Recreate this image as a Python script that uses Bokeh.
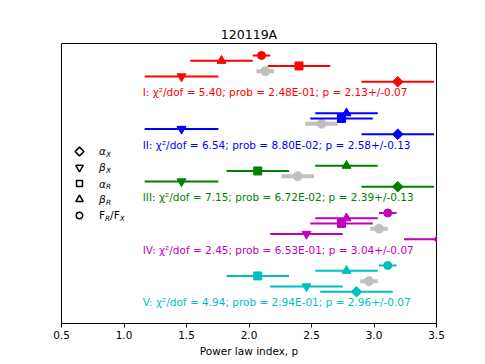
import math
from bokeh.plotting import figure
from bokeh.models import Range1d, FixedTicker, ColumnDataSource
from bokeh.core.properties import value
from bokeh.embed import file_html
from bokeh.resources import INLINE

# ---------------- data ----------------
title_text = "120119A"
groups = ["I", "II", "III", "IV", "V"]
colors = ["#ff0000", "#0000ff", "#008000", "#bf00bf", "#00bfbf"]
group_y = [5, 4, 3, 2, 1]

alpha_x = [3.19, 3.19, 3.19, 3.52, 2.86]
alpha_x_err = [0.29, 0.29, 0.29, 0.28, 0.29]
beta_x = [1.46, 1.46, 1.46, 2.46, 2.46]
beta_x_err = [0.295, 0.295, 0.295, 0.29, 0.29]
alpha_r = [2.40, 2.74, 2.07, 2.74, 2.07]
alpha_r_err = [0.25, 0.25, 0.25, 0.25, 0.25]
beta_r = [1.78, 2.78, 2.78, 2.78, 2.78]
beta_r_err = [0.25, 0.25, 0.25, 0.25, 0.25]
ratio = [2.10, None, None, 3.11, 3.11]
ratio_err = [0.07, None, None, 0.07, 0.07]
p_fit = [2.13, 2.58, 2.39, 3.04, 2.96]
p_err = [0.07, 0.13, 0.13, 0.07, 0.07]
chi2dof = [5.40, 6.54, 7.15, 2.45, 4.94]
prob = ["2.48E-01", "8.80E-02", "6.72E-02", "6.53E-01", "2.94E-01"]

tick_values = [0.5, 1.0, 1.5, 2.0, 2.5, 3.0, 3.5]
tick_labels = ["0.5", "1.0", "1.5", "2.0", "2.5", "3.0", "3.5"]
x_label = "Power law index, p"

legend_main = ["α", "β", "α", "β"]
legend_sub = ["X", "X", "R", "R"]

# ---------------- figure ----------------
FONT = "DejaVu Sans"
p = figure(width=485, height=364, x_range=Range1d(0.5, 3.5), y_range=Range1d(0.594, 5.928),
           output_backend="svg", toolbar_location=None, title=title_text,
           min_border_left=61, min_border_right=49, min_border_top=43, min_border_bottom=41)
p.title.align = "center"
p.title.text_font = FONT
p.title.text_font_size = "12.5px"
p.title.text_font_style = "normal"
p.title.text_color = "black"
p.title.standoff = 4
p.yaxis.visible = False
p.xgrid.visible = False
p.ygrid.visible = False
p.outline_line_color = "black"
p.outline_line_alpha = 1.0
p.outline_line_width = 1

ax = p.xaxis[0]
ax.ticker = FixedTicker(ticks=tick_values)
ax.major_label_overrides = {v: s for v, s in zip(tick_values, tick_labels)}
ax.minor_tick_line_color = None
ax.major_tick_in = 0
ax.major_tick_out = 4
ax.major_label_standoff = 3
ax.major_label_text_font = FONT
ax.major_label_text_font_size = "10.5px"
ax.major_label_text_color = "black"
ax.axis_label = x_label
ax.axis_label_text_font = FONT
ax.axis_label_text_font_size = "10.5px"
ax.axis_label_text_font_style = "normal"
ax.axis_label_text_color = "black"
ax.axis_label_standoff = 3
ax.axis_line_color = "black"
ax.major_tick_line_color = "black"

# gray fitted p
gsrc = ColumnDataSource(dict(x=p_fit, lo=[v - e for v, e in zip(p_fit, p_err)],
                             hi=[v + e for v, e in zip(p_fit, p_err)],
                             y=[g + 0.4 for g in group_y]))
p.segment(x0="lo", x1="hi", y0="y", y1="y", source=gsrc, line_color="#c0c0c0", line_width=4)
p.scatter(x="x", y="y", source=gsrc, marker="circle", size=9, fill_color="#c0c0c0", line_color="#c0c0c0")

series = [
    (alpha_x, alpha_x_err, 0.2, "square", 7.5, math.pi / 4),
    (beta_x, beta_x_err, 0.3, "inverted_triangle", 9, 0),
    (alpha_r, alpha_r_err, 0.5, "square", 8, 0),
    (beta_r, beta_r_err, 0.6, "triangle", 9, 0),
    (ratio, ratio_err, 0.7, "circle", 8, 0),
]
for vals, errs, off, mk, sz, ang in series:
    xs, lo, hi, ys, cs = [], [], [], [], []
    for v, e, g, c in zip(vals, errs, group_y, colors):
        if v is None:
            continue
        xs.append(v); lo.append(v - e); hi.append(v + e); ys.append(g + off); cs.append(c)
    src = ColumnDataSource(dict(x=xs, lo=lo, hi=hi, y=ys, c=cs))
    p.segment(x0="lo", x1="hi", y0="y", y1="y", source=src, line_color="c", line_width=2)
    p.scatter(x="x", y="y", source=src, marker=mk, size=sz, angle=ang,
              fill_color="c", line_color="c")

# group annotation texts
texts = [f"{g}: χ²/dof = {c:.2f}; prob = {pr}; p = {pf:.2f}+/-{pe:.2f}"
         for g, c, pr, pf, pe in zip(groups, chi2dof, prob, p_fit, p_err)]
tsrc = ColumnDataSource(dict(x=[1.15] * len(texts), y=group_y, t=texts, c=colors))
p.text(x="x", y="y", text="t", source=tsrc, text_color="c", text_font=value(FONT),
       text_font_size="10.5px", text_baseline="middle", text_align="left")

# legend (manual)
leg_y = [3.871, 3.566, 3.261, 2.957, 2.652]
leg_markers = [("square", 6.2, math.pi / 4), ("inverted_triangle", 7.5, 0), ("square", 6, 0),
               ("triangle", 7.5, 0), ("circle", 6.5, 0)]
for yy, (mk, sz, ang) in zip(leg_y, leg_markers):
    p.scatter(x=[0.644], y=[yy], marker=mk, size=sz, angle=ang, fill_color=None,
              line_color="black", line_width=1.5)

lx = 0.80
p.text(x=[lx] * 4, y=leg_y[:4], text=legend_main, text_font=value(FONT), text_font_style="italic",
       text_font_size="10.5px", text_baseline="middle", text_color="black")
p.text(x=[lx] * 4, y=leg_y[:4], text=legend_sub, text_font=value(FONT), text_font_style="italic",
       text_font_size="7.3px", text_baseline="middle", text_color="black", x_offset=6.9, y_offset=3)
# F_R/F_X
p.text(x=[lx], y=[leg_y[4]], text=["F"], text_font=value(FONT), text_font_size="10.5px",
       text_baseline="middle", text_color="black")
p.text(x=[lx], y=[leg_y[4]], text=["R"], text_font=value(FONT), text_font_style="italic",
       text_font_size="7.3px", text_baseline="middle", text_color="black", x_offset=6.0, y_offset=3)
p.text(x=[lx], y=[leg_y[4]], text=["/F"], text_font=value(FONT), text_font_size="10.5px",
       text_baseline="middle", text_color="black", x_offset=11.1)
p.text(x=[lx], y=[leg_y[4]], text=["X"], text_font=value(FONT), text_font_style="italic",
       text_font_size="7.3px", text_baseline="middle", text_color="black", x_offset=20.7, y_offset=3)

open("out.html", "w").write(file_html(p, INLINE))
